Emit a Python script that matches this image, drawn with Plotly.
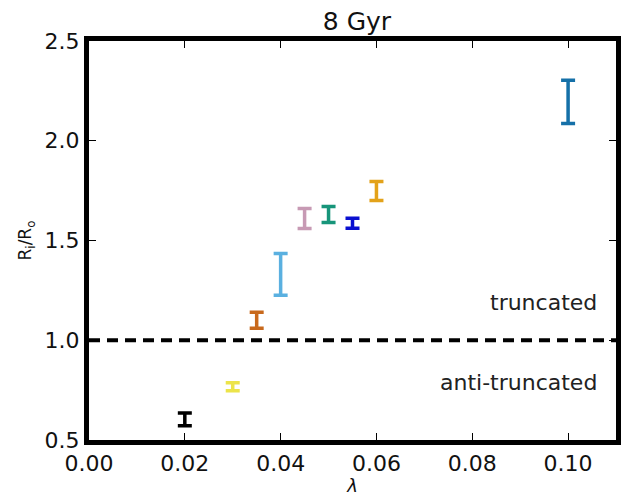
import plotly.graph_objects as go

# Data
lam = [0.02, 0.03, 0.035, 0.04, 0.045, 0.05, 0.055, 0.06, 0.10]
ratio = [0.603, 0.767, 1.10, 1.33, 1.61, 1.63, 1.587, 1.748, 2.195]
err = [0.032, 0.02, 0.04, 0.105, 0.05, 0.04, 0.025, 0.048, 0.108]
colors = ["#000000", "#ece44a", "#c8691c", "#5ab0e0", "#c79ab4",
          "#17957a", "#0a10d0", "#e3a21a", "#1570a8"]

x_ticks = [0.00, 0.02, 0.04, 0.06, 0.08, 0.10]
y_ticks = [0.5, 1.0, 1.5, 2.0, 2.5]

FONT = "DejaVu Sans"

fig = go.Figure()
for xv, yv, ev, c in zip(lam, ratio, err, colors):
    fig.add_trace(go.Scatter(
        x=[xv], y=[yv], mode="markers",
        marker=dict(size=1, color=c, opacity=0),
        error_y=dict(type="data", array=[ev], visible=True,
                     color=c, thickness=3.5, width=7),
        showlegend=False, hoverinfo="skip"))

fig.add_shape(type="line", xref="paper", yref="y", x0=0, x1=1, y0=1.0, y1=1.0,
              line=dict(color="black", width=4, dash="11px,7px"))

fig.add_annotation(x=0.1065, y=1.19, xref="x", yref="y", text="truncated",
                   showarrow=False, xanchor="right", yanchor="middle",
                   font=dict(family=FONT, size=22, color="#222"))
fig.add_annotation(x=0.1065, y=0.79, xref="x", yref="y", text="anti-truncated",
                   showarrow=False, xanchor="right", yanchor="middle",
                   font=dict(family=FONT, size=22, color="#222"))

fig.update_layout(
    width=623, height=496,
    margin=dict(l=89, r=2, t=41, b=56),
    paper_bgcolor="white", plot_bgcolor="white",
    font=dict(family=FONT, color="#111"),
    title=dict(text="8 Gyr", x=0.573, xanchor="center", y=0.958, yanchor="middle",
               font=dict(family=FONT, size=25, color="#111")),
    xaxis=dict(range=[0, 0.11], tickvals=x_ticks,
               ticktext=[f"{v:.2f}" for v in x_ticks],
               showgrid=False, zeroline=False,
               showline=True, linecolor="black", linewidth=5, mirror="allticks",
               ticks="inside", ticklen=7, tickwidth=1, tickcolor="black",
               tickfont=dict(family=FONT, size=22, color="#111"),
               title=dict(text="<i>λ</i>", standoff=4,
                          font=dict(family=FONT, size=18, color="#111"))),
    yaxis=dict(range=[0.5, 2.5], tickvals=y_ticks,
               ticktext=[f"{v:.1f}" for v in y_ticks],
               showgrid=False, zeroline=False,
               showline=True, linecolor="black", linewidth=5, mirror="allticks",
               ticks="inside", ticklen=7, tickwidth=1, tickcolor="black",
               tickfont=dict(family=FONT, size=22, color="#111"),
               title=dict(text="R<sub>i</sub>/R<sub>o</sub>", standoff=10,
                          font=dict(family=FONT, size=17, color="#111"))),
)

fig.write_html("out.html")
